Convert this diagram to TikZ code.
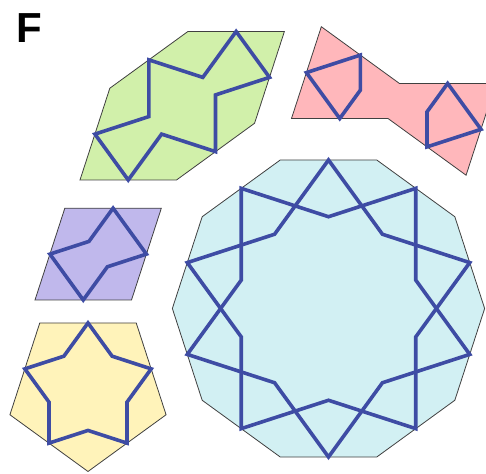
\documentclass[tikz,border=0pt]{standalone}
\usepackage{fontspec}
\setmainfont{Liberation Sans}
\usetikzlibrary{calc}
\definecolor{tgreen}{RGB}{209,240,170}
\definecolor{tpink}{RGB}{255,183,187}
\definecolor{tpurple}{RGB}{192,184,236}
\definecolor{tyellow}{RGB}{255,243,186}
\definecolor{tcyan}{RGB}{210,240,243}
\definecolor{strapblue}{RGB}{62,76,164}
\begin{document}
\begin{tikzpicture}[x=1pt,y=1pt,
  tile/.style={draw=black!75, line width=0.8pt, line join=miter},
  strap/.style={draw=strapblue, line width=3.6pt, line join=miter}]
\useasboundingbox (0,0) rectangle (486,473);
\clip (0,0) rectangle (486,473);
\def\s{96.5}

% ---------- green elongated hexagon ----------
\coordinate (hBL) at (80,293);
\coordinate (hL)  at ($(hBL)+(72:\s)$);
\coordinate (hTL) at ($(hL)+(36:\s)$);
\coordinate (hTR) at ($(hTL)+(0:\s)$);
\coordinate (hR)  at ($(hTR)+(-108:\s)$);
\coordinate (hBR) at ($(hR)+(-144:\s)$);
\filldraw[tile, fill=tgreen] (hBL)--(hL)--(hTL)--(hTR)--(hR)--(hBR)--cycle;
\coordinate (hMl)  at ($(hBL)!0.5!(hL)$);
\coordinate (hMul) at ($(hL)!0.5!(hTL)$);
\coordinate (hMt)  at ($(hTL)!0.5!(hTR)$);
\coordinate (hMr)  at ($(hTR)!0.5!(hR)$);
\coordinate (hMlr) at ($(hR)!0.5!(hBR)$);
\coordinate (hMb)  at ($(hBR)!0.5!(hBL)$);
\coordinate (hWL)  at ($(hBL)+(hTL)-(hL)$);
\coordinate (hWTL) at ($(hL)+(hTR)-(hTL)$);
\coordinate (hWR)  at ($(hTR)+(hBR)-(hR)$);
\coordinate (hWBR) at ($(hR)+(hBL)-(hBR)$);
\coordinate (hPL)  at ($(hL)!0.809!(hWL)$);
\coordinate (hPTL) at ($(hTL)!0.809!(hWTL)$);
\coordinate (hPR)  at ($(hR)!0.809!(hWR)$);
\coordinate (hPBR) at ($(hBR)!0.809!(hWBR)$);
\draw[strap] (hMt)--(hPTL)--(hMul)--(hPL)--(hMl)--(hMb)--(hPBR)--(hMlr)--(hPR)--(hMr)--cycle;

% ---------- pink bowtie ----------
\coordinate (bF) at (291.5,354.5);
\coordinate (bE) at ($(bF)+(0:\s)$);
\coordinate (bD) at ($(bE)+(-36:\s)$);
\coordinate (bC) at ($(bD)+(72:\s)$);
\coordinate (bB) at ($(bC)+(180:\s)$);
\coordinate (bA) at ($(bB)+(144:\s)$);
\filldraw[tile, fill=tpink] (bF)--(bE)--(bD)--(bC)--(bB)--(bA)--cycle;
\coordinate (bMfa) at ($(bF)!0.5!(bA)$);
\coordinate (bMab) at ($(bA)!0.5!(bB)$);
\coordinate (bMfe) at ($(bF)!0.5!(bE)$);
\coordinate (bMbc) at ($(bB)!0.5!(bC)$);
\coordinate (bMcd) at ($(bC)!0.5!(bD)$);
\coordinate (bMde) at ($(bD)!0.5!(bE)$);
\coordinate (bXa) at ($(bMab)+(0,-10)$);
\coordinate (bXb) at ($(bMfe)+(54:10)$);
\coordinate (bQ) at (intersection of bMab--bXa and bMfe--bXb);
\coordinate (bXc) at ($(bMde)+(0,10)$);
\coordinate (bXd) at ($(bMbc)+(234:10)$);
\coordinate (bQ2) at (intersection of bMde--bXc and bMbc--bXd);
\draw[strap] (bMfa)--(bMab)--(bQ)--(bMfe)--cycle;
\draw[strap] (bMbc)--(bMcd)--(bMde)--(bQ2)--cycle;

% ---------- purple rhombus ----------
\coordinate (rBL) at (35,173);
\coordinate (rBR) at ($(rBL)+(0:\s)$);
\coordinate (rTR) at ($(rBR)+(72:\s)$);
\coordinate (rTL) at ($(rBL)+(72:\s)$);
\filldraw[tile, fill=tpurple] (rBL)--(rBR)--(rTR)--(rTL)--cycle;
\coordinate (rMb) at ($(rBL)!0.5!(rBR)$);
\coordinate (rMr) at ($(rBR)!0.5!(rTR)$);
\coordinate (rMt) at ($(rTR)!0.5!(rTL)$);
\coordinate (rMl) at ($(rTL)!0.5!(rBL)$);
\coordinate (rPTL) at ($(rTL)!0.3618!(rBR)$);
\coordinate (rPBR) at ($(rBR)!0.3618!(rTL)$);
\draw[strap] (rMt)--(rPTL)--(rMl)--(rMb)--(rPBR)--(rMr)--cycle;

% ---------- yellow pentagon ----------
\coordinate (pC) at (88,83.6);
\filldraw[tile, fill=tyellow] ($(pC)+(54:82.09)$) -- ($(pC)+(126:82.09)$) -- ($(pC)+(198:82.09)$) -- ($(pC)+(270:82.09)$) -- ($(pC)+(342:82.09)$) -- cycle;
\draw[strap] ($(pC)+(90:66.41)$) -- ($(pC)+(126:41.04)$) -- ($(pC)+(162:66.41)$) -- ($(pC)+(198:41.04)$) -- ($(pC)+(234:66.41)$) -- ($(pC)+(270:41.04)$) -- ($(pC)+(306:66.41)$) -- ($(pC)+(342:41.04)$) -- ($(pC)+(18:66.41)$) -- ($(pC)+(54:41.04)$) -- cycle;

% ---------- cyan decagon ----------
\coordinate (dC) at (328.5,164.5);
\filldraw[tile, fill=tcyan] ($(dC)+(0:156.14)$) \foreach \a in {36,72,...,324} { -- ($(dC)+(\a:156.14)$) } -- cycle;
\draw[strap] ($(dC)+(18:148.5)$) -- ($(dC)+(54:91.77)$) -- ($(dC)+(90:148.5)$) -- ($(dC)+(126:91.77)$) -- ($(dC)+(162:148.5)$) -- ($(dC)+(198:91.77)$) -- ($(dC)+(234:148.5)$) -- ($(dC)+(270:91.77)$) -- ($(dC)+(306:148.5)$) -- ($(dC)+(342:91.77)$) -- cycle;
\draw[strap] ($(dC)+(18:91.77)$) -- ($(dC)+(54:148.5)$) -- ($(dC)+(90:91.77)$) -- ($(dC)+(126:148.5)$) -- ($(dC)+(162:91.77)$) -- ($(dC)+(198:148.5)$) -- ($(dC)+(234:91.77)$) -- ($(dC)+(270:148.5)$) -- ($(dC)+(306:91.77)$) -- ($(dC)+(342:148.5)$) -- cycle;

% ---------- panel label ----------
\node[font=\fontsize{42}{42}\selectfont\bfseries, anchor=base west, inner sep=0pt] (F) at (16,430) {F};
\end{tikzpicture}
\end{document}
